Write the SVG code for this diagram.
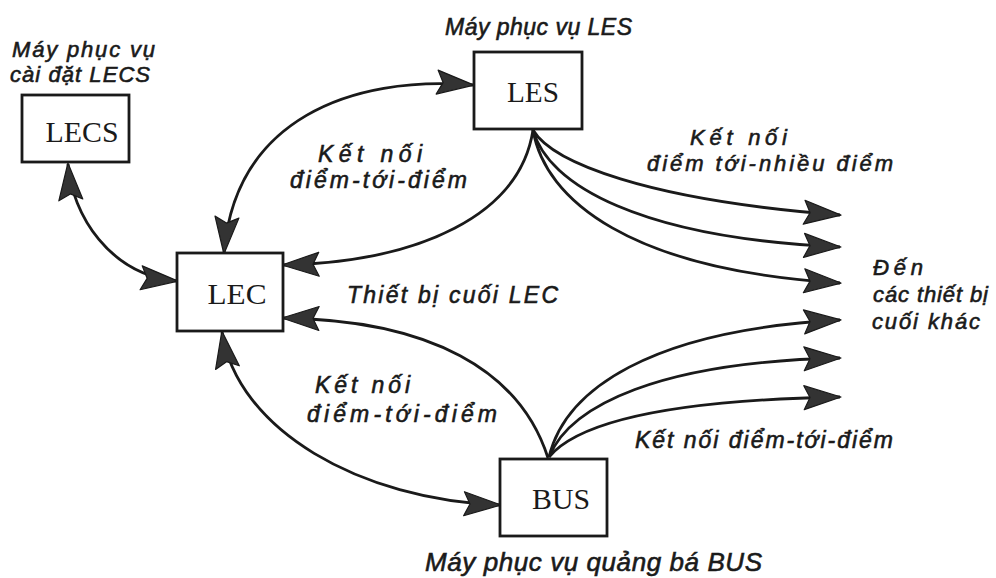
<svg xmlns="http://www.w3.org/2000/svg" width="996" height="578" viewBox="0 0 996 578">
<style>
.box{fill:#fff;stroke:#1a1a1a;stroke-width:2.8}
.nt{font-family:"Liberation Serif","Times New Roman",serif;font-size:29px;fill:#1a1a1a;text-anchor:middle}
.lb{font-family:"Liberation Sans",Arial,sans-serif;font-style:italic;font-size:23px;fill:#1a1a1a;stroke:#1a1a1a;stroke-width:0.6}
.md{font-size:22px}
.lg{font-size:26px}
.cn{fill:none;stroke:#1a1a1a;stroke-width:2.8}
.ah{marker-end:url(#arr)}
.bi{marker-start:url(#arr);marker-end:url(#arr)}
</style>
<defs>
<marker id="arr" markerUnits="userSpaceOnUse" viewBox="-38 -14 40 28" markerWidth="40" markerHeight="28" refX="0" refY="0" orient="auto-start-reverse">
<path d="M1,0 L-36,-12 L-30,0 L-36,12 Z" fill="#333" stroke="#1a1a1a" stroke-width="1.2" stroke-linejoin="round"/>
</marker>
</defs>
<rect width="996" height="578" fill="#fff"/>

<g id="connectors">
<path class="cn bi" d="M68,164 C72,215 110,275 177,281"/>
<path class="cn bi" d="M224,253 C235,120 350,75 473,85"/>
<path class="cn ah" d="M533,130 C520,215 420,262 283,265"/>
<path class="cn ah" d="M533,130 C552,162 645,200 840,215"/>
<path class="cn ah" d="M533,130 C548,185 640,238 840,247"/>
<path class="cn ah" d="M533,130 C545,200 630,270 840,283"/>
<path class="cn ah" d="M548,458 C520,370 430,320 283,318"/>
<path class="cn ah" d="M549,457 C565,390 650,330 840,320"/>
<path class="cn ah" d="M549,457 C570,405 660,362 840,358"/>
<path class="cn ah" d="M549,457 C580,420 680,400 840,397"/>
<path class="cn bi" d="M222,332 C237,430 360,500 500,505"/>
</g>

<g id="node-lecs">
<rect class="box" x="22" y="95" width="107" height="67"/>
<text class="nt" x="82" y="142" textLength="73" lengthAdjust="spacingAndGlyphs">LECS</text>
<text class="lb md" x="12" y="57" textLength="143" lengthAdjust="spacing">Máy phục vụ</text>
<text class="lb md" x="10" y="82" textLength="140" lengthAdjust="spacing">cài đặt LECS</text>
</g>

<g id="node-les">
<rect class="box" x="474" y="52" width="108" height="77"/>
<text class="nt" x="533" y="102" textLength="52" lengthAdjust="spacingAndGlyphs">LES</text>
<text class="lb" x="445" y="35" textLength="187" lengthAdjust="spacing">Máy phục vụ LES</text>
</g>

<g id="node-lec">
<rect class="box" x="177" y="253" width="106" height="78"/>
<text class="nt" x="237" y="304" textLength="59" lengthAdjust="spacingAndGlyphs">LEC</text>
</g>

<g id="node-bus">
<rect class="box" x="500" y="459" width="107" height="77"/>
<text class="nt" x="561" y="509" textLength="58" lengthAdjust="spacingAndGlyphs">BUS</text>
<text class="lb lg" x="425" y="571" textLength="337" lengthAdjust="spacing">Máy phục vụ quảng bá BUS</text>
</g>

<g id="labels">
<text class="lb" x="318" y="162" textLength="104" lengthAdjust="spacing">Kết nối</text>
<text class="lb" x="290" y="188" textLength="177" lengthAdjust="spacing">điểm-tới-điểm</text>
<text class="lb" x="347" y="303" textLength="211" lengthAdjust="spacing">Thiết bị cuối LEC</text>
<text class="lb md" x="690" y="145" textLength="97" lengthAdjust="spacing">Kết nối</text>
<text class="lb md" x="647" y="171" textLength="246" lengthAdjust="spacing">điểm tới-nhiều điểm</text>
<text class="lb md" x="873" y="275" textLength="50" lengthAdjust="spacing">Đến</text>
<text class="lb md" x="873" y="302" textLength="115" lengthAdjust="spacing">các thiết bị</text>
<text class="lb md" x="872" y="329" textLength="108" lengthAdjust="spacing">cuối khác</text>
<text class="lb" x="315" y="393" textLength="95" lengthAdjust="spacing">Kết nối</text>
<text class="lb" x="307" y="422" textLength="190" lengthAdjust="spacing">điểm-tới-điểm</text>
<text class="lb" x="635" y="448" textLength="258" lengthAdjust="spacing">Kết nối điểm-tới-điểm</text>
</g>
</svg>
